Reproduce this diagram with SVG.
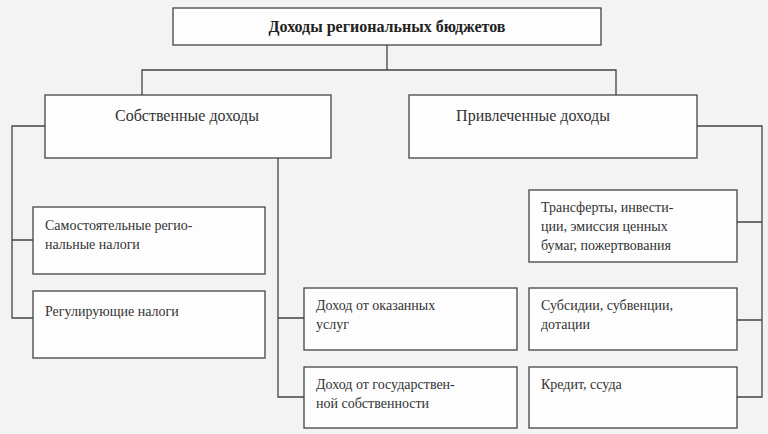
<svg xmlns="http://www.w3.org/2000/svg" width="768" height="434" viewBox="0 0 768 434" font-family="'Liberation Serif','DejaVu Serif',serif">
<style>
.b{fill:#fdfdfd;stroke:#444;stroke-width:1.3}
.c{fill:none;stroke:#444;stroke-width:1.3}
text{font-family:'Liberation Serif','DejaVu Serif',serif;font-size:14px;fill:#333}
.h{font-size:16px}
.t{font-size:16px;font-weight:bold;fill:#222}
</style>
<rect width="768" height="434" fill="#f3f3f3"/>
<g id="connectors">
<path class="c" d="M387 45V70M142 95V70H616V95"/>
<path class="c" d="M45 126H12V318H33M12 240H33"/>
<path class="c" d="M278 158V397H304M278 318H304"/>
<path class="c" d="M697 126H762V397H737M762 222H737M762 320H737"/>
</g>
<g id="root"><rect class="b" x="173" y="8" width="428" height="37"/><text class="t" x="387" y="32" text-anchor="middle">Доходы региональных бюджетов</text></g>
<g id="own"><rect class="b" x="45" y="95" width="286" height="63"/><text class="h" x="187" y="121" text-anchor="middle">Собственные доходы</text></g>
<g id="attr"><rect class="b" x="409" y="95" width="288" height="63"/><text class="h" x="533" y="121" text-anchor="middle">Привлеченные доходы</text></g>
<g id="n1"><rect class="b" x="33" y="207" width="232" height="67"/><text x="45" y="230">Самостоятельные регио-</text><text x="45" y="249">нальные налоги</text></g>
<g id="n2"><rect class="b" x="33" y="291" width="232" height="67"/><text x="45" y="316">Регулирующие налоги</text></g>
<g id="n3"><rect class="b" x="304" y="288" width="213" height="62"/><text x="316" y="310">Доход от оказанных</text><text x="316" y="329">услуг</text></g>
<g id="n4"><rect class="b" x="304" y="367" width="213" height="61"/><text x="316" y="389">Доход от государствен-</text><text x="316" y="408">ной собственности</text></g>
<g id="n5"><rect class="b" x="529" y="190" width="208" height="72"/><text x="541" y="212">Трансферты, инвести-</text><text x="541" y="231">ции, эмиссия ценных</text><text x="541" y="250">бумаг, пожертвования</text></g>
<g id="n6"><rect class="b" x="529" y="288" width="208" height="62"/><text x="541" y="310">Субсидии, субвенции,</text><text x="541" y="329">дотации</text></g>
<g id="n7"><rect class="b" x="529" y="367" width="208" height="61"/><text x="541" y="389">Кредит, ссуда</text></g>
</svg>
